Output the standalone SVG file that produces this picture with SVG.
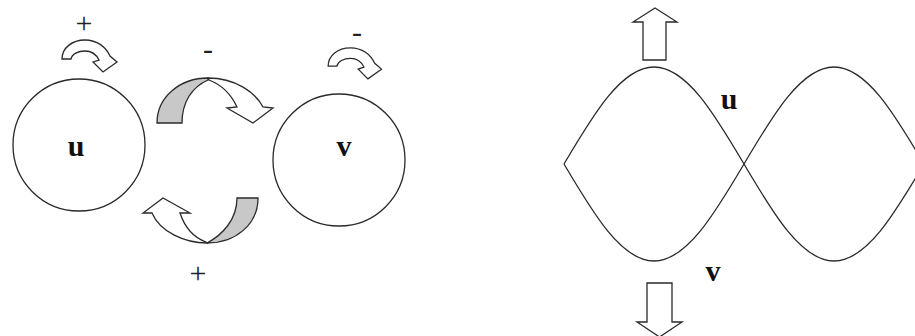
<svg xmlns="http://www.w3.org/2000/svg" width="915" height="336" viewBox="0 0 915 336">
<style>
.ln{fill:none;stroke:#2a2a2a;stroke-width:1.3}
.wf{fill:#fff;stroke:#2a2a2a;stroke-width:1.3;stroke-linejoin:miter}
.gf{fill:#c8c8c8;stroke:#2a2a2a;stroke-width:1.3}
.lbl{font-family:"Liberation Serif","Times New Roman",serif;font-weight:bold;font-size:30px;fill:#111;text-anchor:middle}
.sgn{font-family:"Liberation Serif","Times New Roman",serif;font-size:30px;fill:#222;text-anchor:middle}
</style>
<defs>
<path id="small" class="wf" d="M62,59 C62,48 72,40 85,40 C97,40 106,47 110,56 L117,62 L103,72 L93,62 L99,60 C96,54 91,51 85,51 C78,51 72,54 71,59 Z"/>
</defs>
<rect width="915" height="336" fill="#fff"/>
<g id="node-u">
<circle class="wf" cx="79" cy="145" r="66"/>
<text class="lbl" x="76" y="156">u</text>
</g>
<g id="node-v">
<circle class="wf" cx="339" cy="160" r="66"/>
<text class="lbl" x="344" y="156">v</text>
</g>
<g id="connectors">
<g id="self-u">
<use href="#small"/>
<text class="sgn" x="84" y="33">+</text>
</g>
<g id="self-v">
<use href="#small" transform="translate(268,9) scale(0.97)"/>
<text class="sgn" x="357" y="42">-</text>
</g>
<g id="u-to-v">
<path class="gf" d="M157,123 L182,123 C182,102 192,87 208,80 L208,78 C180,78 157,97 157,123 Z"/>
<path class="wf" d="M208,78 C235,78 255,92 263,107 L273,108 L253,123 L227,108 L237,107 C231,94 222,85 209,80 Z"/>
<text class="sgn" x="208" y="59">-</text>
</g>
<g id="v-to-u">
<path class="gf" d="M237,198 L258,198 C258,225 235,243 207,243 C222,235 237,220 237,198 Z"/>
<path class="wf" d="M207,243 C185,243 160,232 152,213 L143,213 L163,198 L190,213 L180,213 C185,228 195,238 206,242 Z"/>
<text class="sgn" x="198" y="283">+</text>
</g>
</g>
<g id="waves">
<path class="ln" d="M564,164 C593.35,114.3 621.43,67 654,67 C686.57,67 714.65,114.3 744,164 C773.35,213.7 801.43,261 834,261 C866.57,261 894.65,213.7 924,164"/>
<path class="ln" d="M564,164 C593.35,213.7 621.43,261 654,261 C686.57,261 714.65,213.7 744,164 C773.35,114.3 801.43,67 834,67 C866.57,67 894.65,114.3 924,164"/>
<polygon class="wf" points="655,8 677,22 666,22 666,60 643,60 643,22 633,22"/>
<polygon class="wf" points="647,283 672,283 672,322 682,322 659.5,337 637,322 647,322"/>
<text class="lbl" x="729" y="109">u</text>
<text class="lbl" x="713" y="281">v</text>
</g>
</svg>
